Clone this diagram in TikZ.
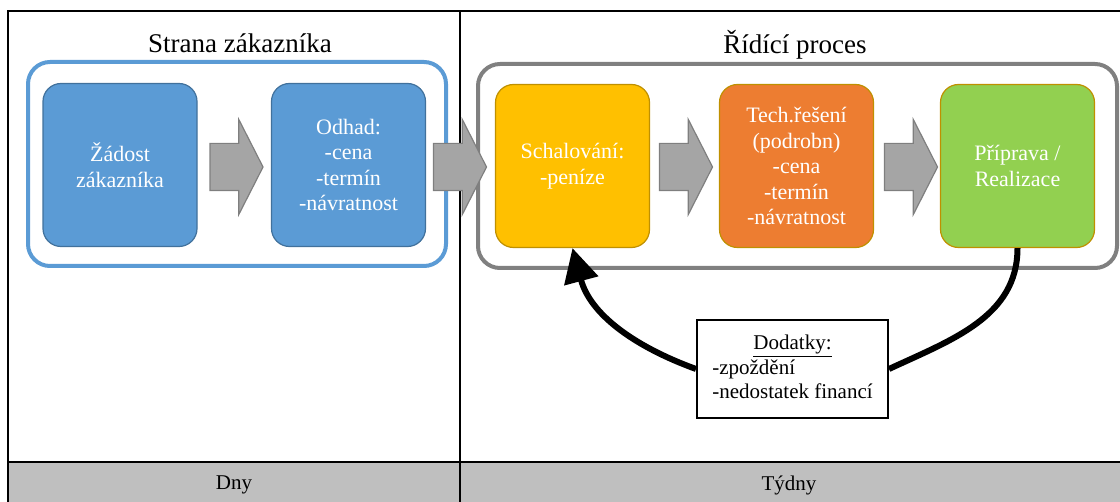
\documentclass[tikz,border=0pt]{standalone}
\usepackage{fontspec}
\setmainfont{Liberation Serif}
\usetikzlibrary{arrows.meta}
\usetikzlibrary{shapes.arrows}

\definecolor{custblue}{HTML}{5B9BD5}
\definecolor{custblueline}{HTML}{41719C}
\definecolor{schvalyellow}{HTML}{FFC000}
\definecolor{techorange}{HTML}{ED7D31}
\definecolor{realgreen}{HTML}{92D050}
\definecolor{boxline}{HTML}{BF9000}
\definecolor{arrowgray}{HTML}{A5A5A5}
\definecolor{arrowline}{HTML}{7F7F7F}
\definecolor{procgray}{HTML}{808080}
\definecolor{bandgray}{HTML}{BFBFBF}

\begin{document}
\begin{tikzpicture}[x=0.5pt,y=-0.5pt,
    box/.style={rounded corners=9pt, minimum width=77pt, minimum height=81.5pt,
        text=white, align=center, line width=0.6pt,
        font=\fontsize{11}{12.75}\selectfont},
    blockarrow/.style={single arrow, draw=arrowline, fill=arrowgray, line width=0.6pt,
        inner xsep=0pt, inner ysep=11.5pt, single arrow head extend=12pt,
        single arrow tip angle=126, minimum height=26.5pt},
    feedback/.style={line width=3pt}]
        \useasboundingbox (0,0) rectangle (1120,502);

        \fill[bandgray] (8,462) rectangle (1122,502);
        \draw[line width=1.2pt] (8,504) -- (8,11) -- (1122,11);
        \draw[line width=1.2pt] (460,11) -- (460,504);
        \draw[line width=1.2pt] (8,462) -- (1122,462);
        \node (dny) at (234,485) {\fontsize{10.5}{12}\selectfont Dny};
        \node (tydny) at (789,485) {\fontsize{10.5}{12}\selectfont Týdny};

        \draw[custblue, line width=2pt, rounded corners=11pt] (28,62) rectangle (446,266);
        \draw[procgray, line width=2pt, rounded corners=11pt] (478,64) rectangle (1117,268);
        \node (strana) at (240,43) {\fontsize{13.5}{16}\selectfont Strana zákazníka};
        \node (rizeni) at (795,45) {\fontsize{13.5}{16}\selectfont Řídící proces};

        \node[box, fill=custblue, draw=custblueline] (zadost) at (120,165) {Žádost\\zákazníka};
        \node[box, fill=custblue, draw=custblueline] (odhad) at (348.5,165) {Odhad:\\-cena\\-termín\\-návratnost};
        \node[box, fill=schvalyellow, draw=boxline] (schval) at (572.5,166) {Schalování:\\-peníze};
        \node[box, fill=techorange, draw=boxline] (tech) at (796.5,166) {Tech.řešení\\(podrobn)\\-cena\\-termín\\-návratnost};
        \node[box, fill=realgreen, draw=boxline] (real) at (1017.5,166) {Příprava /\\Realizace};

        \node[blockarrow] (a1) at (230.5,167) {};
        \node[blockarrow] (a2) at (454,167) {};
        \node[blockarrow] (a3) at (680,167) {};
        \node[blockarrow] (a4) at (905,167) {};

        \node[draw, line width=1pt, fill=white, minimum width=95.5pt, minimum height=49pt,
            font=\fontsize{10.5}{12}\selectfont] (dod) at (792.5,369)
            {\begin{tabular}{@{}l@{}}\multicolumn{1}{c}{\underline{Dodatky:}}\\-zpoždění\\-nedostatek financí\end{tabular}};
        \draw[feedback] (real.south) to[out=-90,in=25] (dod.east);
        \draw[feedback, -{Triangle[length=17pt,width=17pt]}] (dod.west) to[out=160,in=-75] (schval.south);
    \end{tikzpicture}
\end{document}
